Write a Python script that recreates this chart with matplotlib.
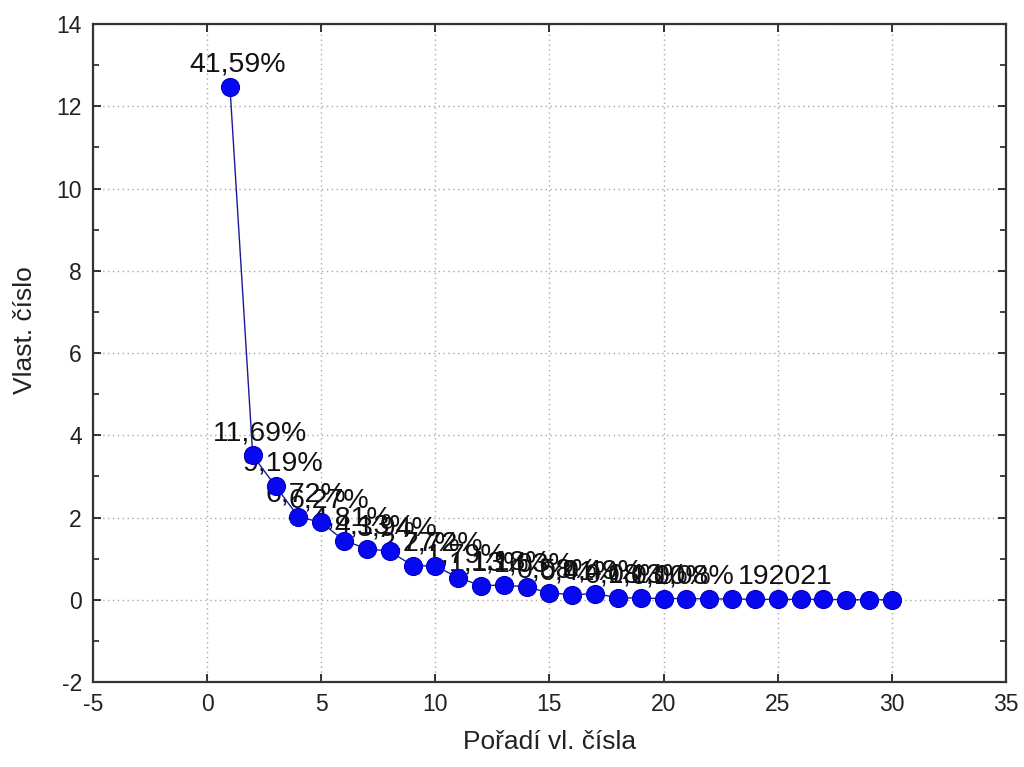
import matplotlib
matplotlib.use("Agg")
import matplotlib.pyplot as plt
from matplotlib.ticker import MultipleLocator

# Data
order = list(range(1, 31))
eigenvalues = [12.48, 3.51, 2.76, 2.02, 1.88, 1.44, 1.24, 1.18, 0.83, 0.82,
               0.54, 0.34, 0.36, 0.31, 0.17, 0.12, 0.15, 0.05, 0.04, 0.03,
               0.03, 0.02, 0.02, 0.01, 0.01, 0.01, 0.01, 0.0, 0.0, 0.0]
point_labels = ["41,59%", "11,69%", "9,19%", "6,72%", "6,27%", "4,81%", "4,13%",
                "3,94%", "2,77%", "2,72%", "1,79%", "1,13%", "1,18%", "1,03%",
                "0,58%", "0,41%", "0,49%", "0,18%", "0,13%", "0,10%", "0,08%",
                "", "", "", "192021", "", "", "", "", ""]
x_label = "Pořadí vl. čísla"
y_label = "Vlast. číslo"

plt.rcParams['font.family'] = ['Liberation Sans', 'DejaVu Sans']
plt.rcParams['axes.unicode_minus'] = False

fig = plt.figure(figsize=(10.24, 7.67), dpi=100)
ax = fig.add_axes([0.0908, 0.1108, 0.8916, 0.8579])

ax.plot(order, eigenvalues, color='#1a1a9a', linewidth=1.0, zorder=2)
ax.plot(order, eigenvalues, linestyle='none', marker='o', markersize=13,
        markerfacecolor='#0808f0', markeredgecolor='#0000c8', markeredgewidth=0.8,
        zorder=3)

for xv, yv, lab in zip(order, eigenvalues, point_labels):
    if lab:
        ax.annotate(lab, (xv, yv), xytext=(5.5, 11), textcoords='offset points',
                    ha='center', va='baseline', fontsize=20.5, color='#111111',
                    zorder=1)

ax.set_xlim(-5, 35)
ax.set_ylim(-2, 14)
ax.xaxis.set_major_locator(MultipleLocator(5))
ax.yaxis.set_major_locator(MultipleLocator(2))
ax.yaxis.set_minor_locator(MultipleLocator(1))

ax.grid(True, which='major', linestyle=(0, (1, 2.5)), color='#a8a8a8', linewidth=1.0)
ax.set_axisbelow(True)

ax.tick_params(which='both', direction='in', top=True, right=True,
               labelsize=16.5, colors='#222222', pad=8)
ax.tick_params(which='major', length=6, width=1.3)
ax.tick_params(which='minor', length=4, width=1.2)

for s in ax.spines.values():
    s.set_linewidth(1.6)
    s.set_color('#333333')

ax.set_xlabel(x_label, fontsize=19, color='#222222')
ax.set_ylabel(y_label, fontsize=19, color='#222222')
ax.xaxis.set_label_coords(0.50, -0.091)
ax.yaxis.set_label_coords(-0.0745, 0.535)
ax.xaxis.label.set_va('center')
ax.yaxis.label.set_va('center')

fig.savefig("out.png", dpi=100, facecolor='white')
